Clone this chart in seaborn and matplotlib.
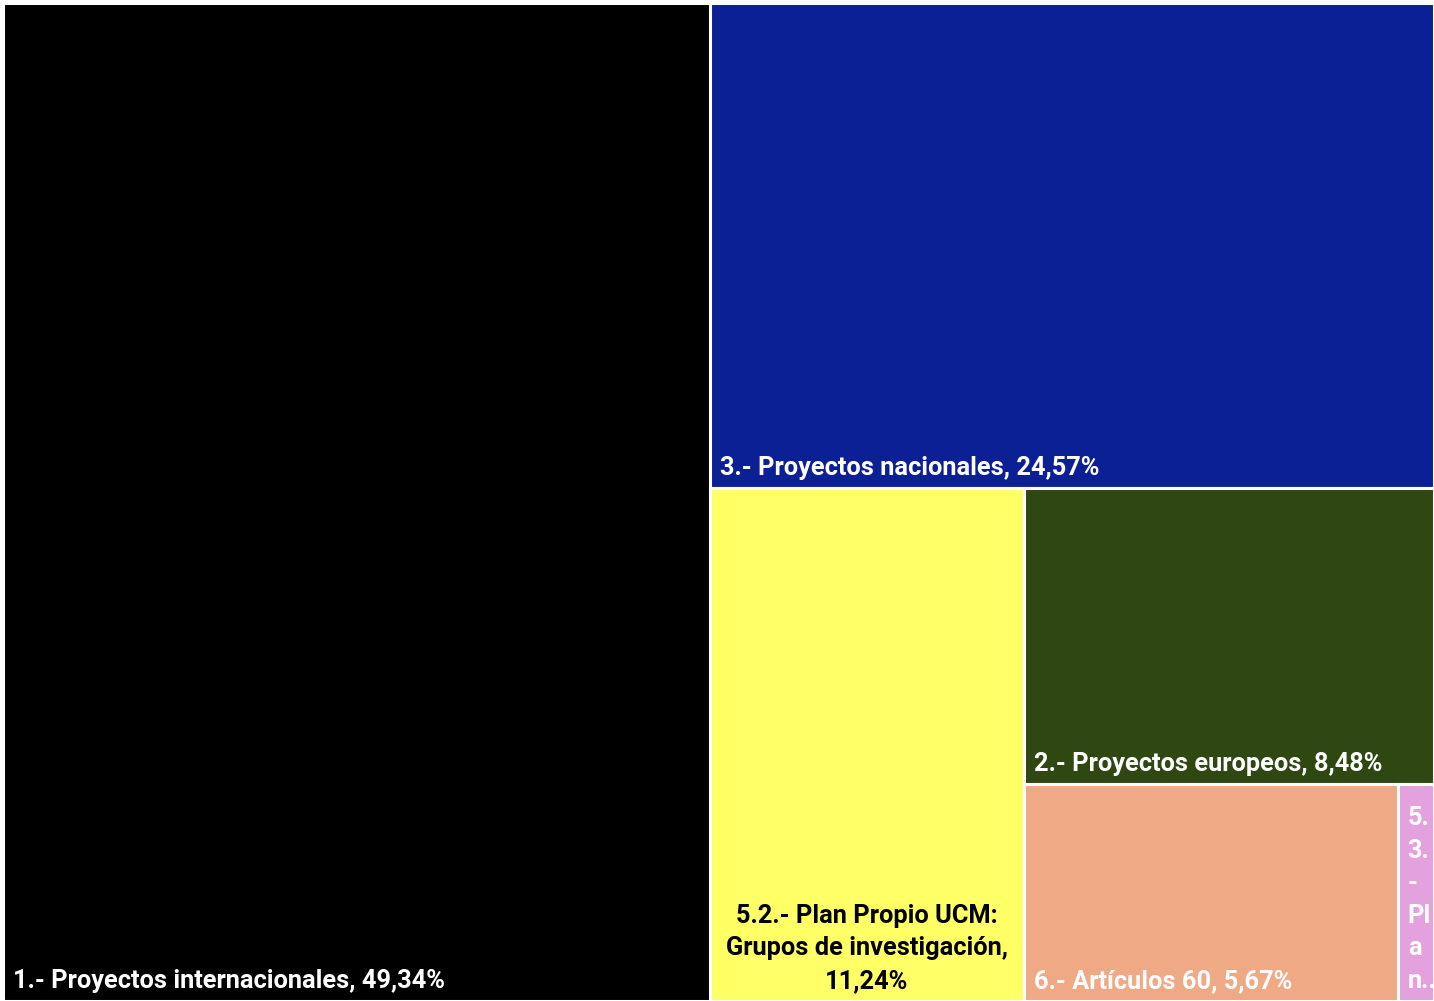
import matplotlib
matplotlib.use("Agg")
import matplotlib.pyplot as plt
import seaborn as sns

sns.set_theme(style="white")
plt.rcParams["font.family"] = ["Roboto", "DejaVu Sans"]

labels = [
    "1.- Proyectos internacionales, 49,34%",
    "3.- Proyectos nacionales, 24,57%",
    "5.2.- Plan Propio UCM:\nGrupos de investigación,\n11,24%",
    "2.- Proyectos europeos, 8,48%",
    "6.- Artículos 60, 5,67%",
    "5.\n3.\n-\nPl\na\nn..",
]
values = [49.34, 24.57, 11.24, 8.48, 5.67, 0.55]
colors = ["#000000", "#0C2096", "#FFFF66", "#2F4711", "#EFA985", "#E3A1DD"]
text_colors = ["white", "white", "black", "white", "white", "white"]

W, H = 100.0, 100.0
total = sum(values)

rects = []
w0 = W * values[0] / total
rects.append((0, 0, w0, H))
rest_w = W - w0
rest = total - values[0]
h1 = H * values[1] / rest
rects.append((w0, H - h1, rest_w, h1))
rest_h = H - h1
rest2 = rest - values[1]
w2 = rest_w * values[2] / rest2
rects.append((w0, 0, w2, rest_h))
x3 = w0 + w2
w3 = rest_w - w2
rest3 = rest2 - values[2]
h3 = rest_h * values[3] / rest3
rects.append((x3, rest_h - h3, w3, h3))
h4 = rest_h - h3
rest4 = rest3 - values[3]
w4 = w3 * values[4] / rest4
rects.append((x3, 0, w4, h4))
rects.append((x3 + w4, 0, w3 - w4, h4))

fig = plt.figure(figsize=(14.34, 10.01), dpi=100)
ax = fig.add_axes([3 / 1434, 0, 1431 / 1434, 998 / 1001])
ax.set_xlim(0, W)
ax.set_ylim(0, H)
ax.axis("off")

for (x, y, w, h), c in zip(rects, colors):
    ax.bar(x, h, width=w, bottom=y, align="edge", color=c,
           edgecolor="white", linewidth=2.2)

px_x = W / 1431
px_y = H / 998
fs = 18.3
for i, ((x, y, w, h), lab, tc) in enumerate(zip(rects, labels, text_colors)):
    if i == 2:
        ax.text(x + w / 2, y + 8 * px_y, lab, ha="center", va="bottom",
                color=tc, fontsize=fs, fontweight="bold", linespacing=1.45)
    elif i == 5:
        t = ax.text(x + 10 * px_x, y + 8 * px_y, lab, ha="left", va="bottom",
                    color=tc, fontsize=fs, fontweight="bold", linespacing=1.45)
        clip = plt.Rectangle((x, y), w, h, transform=ax.transData)
        t.set_clip_path(clip)
    else:
        ax.text(x + 10 * px_x, y + 8 * px_y, lab, ha="left", va="bottom",
                color=tc, fontsize=fs, fontweight="bold")

fig.savefig("out.png", dpi=100, facecolor="white")
